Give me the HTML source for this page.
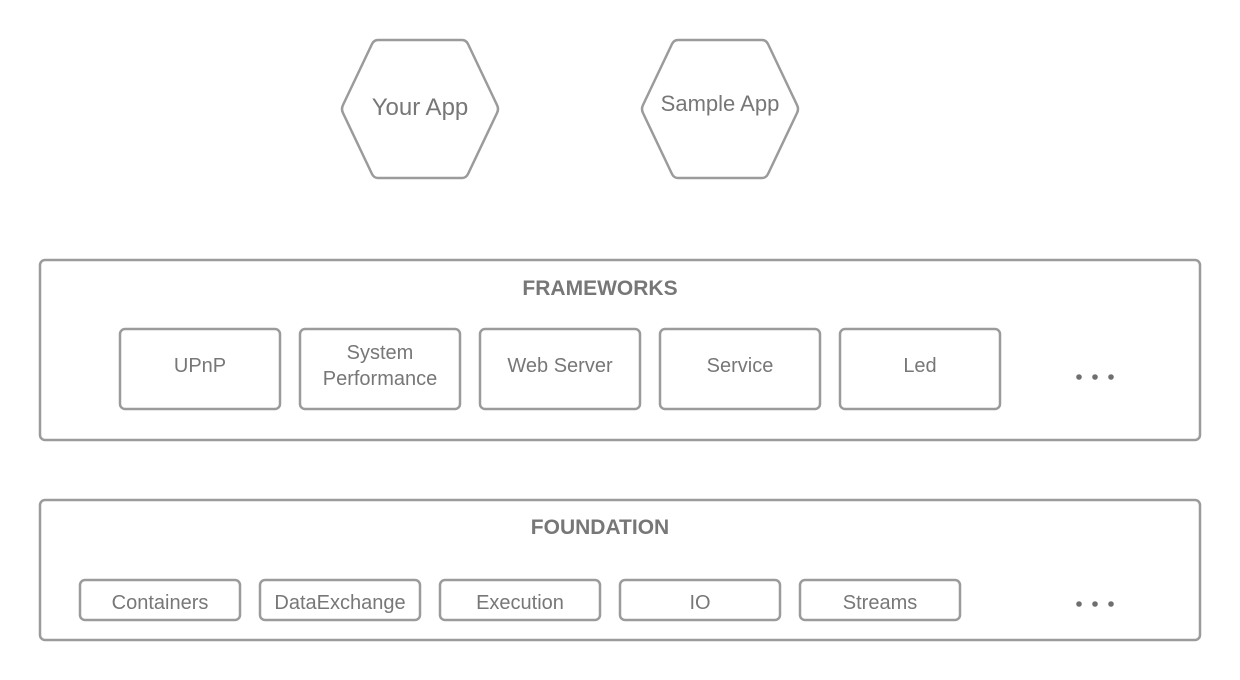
<!DOCTYPE html>
<html><head><meta charset="utf-8"><style>body{margin:0;background:#fff}svg{display:block}</style></head><body>
<svg width="1240" height="680" xmlns="http://www.w3.org/2000/svg" font-family="Liberation Sans, sans-serif" fill="none" stroke="#9b9b9b" stroke-width="2.5" stroke-linejoin="round">
<path d="M378,40 H462 Q466,40 468,44 L497,105 Q499,109 497,113 L468,174 Q466,178 462,178 H378 Q374,178 372,174 L343,113 Q341,109 343,105 L372,44 Q374,40 378,40 Z"/>
<path d="M678,40 H762 Q766,40 768,44 L797,105 Q799,109 797,113 L768,174 Q766,178 762,178 H678 Q674,178 672,174 L643,113 Q641,109 643,105 L672,44 Q674,40 678,40 Z"/>
<rect x="40" y="260" width="1160" height="180" rx="5"/>
<rect x="120" y="329" width="160" height="80" rx="5"/>
<rect x="300" y="329" width="160" height="80" rx="5"/>
<rect x="480" y="329" width="160" height="80" rx="5"/>
<rect x="660" y="329" width="160" height="80" rx="5"/>
<rect x="840" y="329" width="160" height="80" rx="5"/>
<rect x="40" y="500" width="1160" height="140" rx="5"/>
<rect x="80" y="580" width="160" height="40" rx="5"/>
<rect x="260" y="580" width="160" height="40" rx="5"/>
<rect x="440" y="580" width="160" height="40" rx="5"/>
<rect x="620" y="580" width="160" height="40" rx="5"/>
<rect x="800" y="580" width="160" height="40" rx="5"/>
<g stroke="none" fill="#6f6f6f">
<circle cx="1079" cy="377" r="2.8"/><circle cx="1095" cy="377" r="2.8"/><circle cx="1111" cy="377" r="2.8"/>
<circle cx="1079" cy="604" r="2.8"/><circle cx="1095" cy="604" r="2.8"/><circle cx="1111" cy="604" r="2.8"/>
</g>
<g stroke="none" fill="#777" text-anchor="middle" font-size="20">
<text x="420" y="115" font-size="24">Your App</text>
<text x="720" y="111" font-size="22">Sample App</text>
<text x="600" y="295" font-weight="bold" font-size="21">FRAMEWORKS</text>
<text x="200" y="372">UPnP</text>
<text x="380" y="359">System</text>
<text x="380" y="385">Performance</text>
<text x="560" y="372">Web Server</text>
<text x="740" y="372">Service</text>
<text x="920" y="372">Led</text>
<text x="600" y="534" font-weight="bold" font-size="21">FOUNDATION</text>
<text x="160" y="609">Containers</text>
<text x="340" y="609">DataExchange</text>
<text x="520" y="609">Execution</text>
<text x="700" y="609">IO</text>
<text x="880" y="609">Streams</text>
</g>
</svg>
</body></html>
